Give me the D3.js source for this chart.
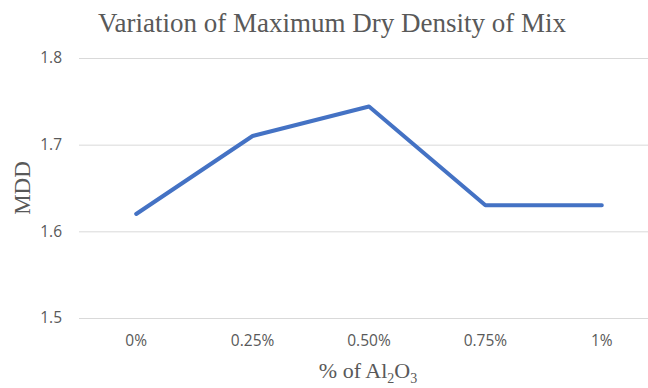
<!DOCTYPE html>
<html>
<head>
<meta charset="utf-8">
<script src="https://cdn.jsdelivr.net/npm/d3@7"></script>
<style>
  html, body { margin: 0; padding: 0; background: #fff; }
  svg { display: block; }
</style>
</head>
<body>
<svg id="chart" width="648" height="388"></svg>
<script>
const categories = ["0%", "0.25%", "0.50%", "0.75%", "1%"];
const mddValues = [1.62, 1.71, 1.744, 1.63, 1.63];
const yTicks = [1.5, 1.6, 1.7, 1.8];
const titleText = "Variation of Maximum Dry Density of Mix";
const yTitle = "MDD";

const svg = d3.select("#chart");
const x = d3.scaleBand().domain(categories).range([78, 660]);
const y = d3.scaleLinear().domain([1.5, 1.8]).range([318, 58]);

// gridlines
svg.append("g").selectAll("line").data(yTicks).join("line")
  .attr("x1", 79).attr("x2", 648)
  .attr("y1", d => y(d) + 0.5).attr("y2", d => y(d) + 0.5)
  .attr("stroke", "#d9d9d9").attr("stroke-width", 1);

// y tick labels
svg.append("g").selectAll("text").data(yTicks).join("text")
  .attr("x", 62).attr("y", d => y(d)).attr("dy", "0.35em")
  .attr("text-anchor", "end")
  .attr("font-family", "Open Sans, Liberation Sans, sans-serif")
  .attr("font-size", 15.5).attr("fill", "#595959")
  .text(d => d3.format(".1f")(d));

// x tick labels
svg.append("g").selectAll("text").data(categories).join("text")
  .attr("x", d => x(d) + x.bandwidth() / 2).attr("y", 341).attr("dy", "0.35em")
  .attr("text-anchor", "middle")
  .attr("font-family", "Open Sans, Liberation Sans, sans-serif")
  .attr("font-size", 15.5).attr("fill", "#595959")
  .text(d => d);

// line
const line = d3.line()
  .x((d, i) => x(categories[i]) + x.bandwidth() / 2)
  .y(d => y(d));
svg.append("path").datum(mddValues)
  .attr("d", line)
  .attr("fill", "none").attr("stroke", "#4472C4")
  .attr("stroke-width", 4).attr("stroke-linecap", "round").attr("stroke-linejoin", "round");

// title
svg.append("text").attr("x", 332).attr("y", 32).attr("text-anchor", "middle")
  .attr("font-family", "Liberation Serif, Times New Roman, serif")
  .attr("font-size", 27).attr("fill", "#595959").text(titleText);

// y axis title
svg.append("text").attr("transform", "translate(30,188) rotate(-90)")
  .attr("text-anchor", "middle")
  .attr("font-family", "Liberation Serif, Times New Roman, serif")
  .attr("font-size", 23).attr("fill", "#595959").text(yTitle);

// x axis title with subscripts
const xt = svg.append("text").attr("x", 368).attr("y", 378).attr("text-anchor", "middle")
  .attr("font-family", "Liberation Serif, Times New Roman, serif")
  .attr("font-size", 22).attr("fill", "#595959");
xt.append("tspan").text("% of Al");
xt.append("tspan").attr("font-size", 14).attr("dy", 5).text("2");
xt.append("tspan").attr("dy", -5).text("O");
xt.append("tspan").attr("font-size", 14).attr("dy", 5).text("3");
</script>
</body>
</html>
